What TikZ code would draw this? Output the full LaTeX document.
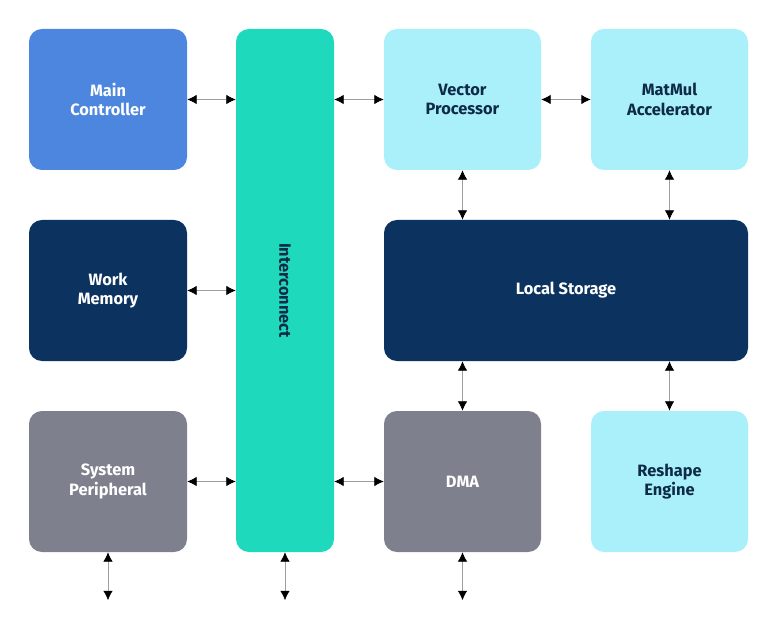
\documentclass[tikz,border=0pt]{standalone}
\usepackage{fontspec}
\setmainfont{Fira Sans}
\usetikzlibrary{arrows.meta}

\definecolor{ctrlblue}{HTML}{4C86DE}
\definecolor{navy}{HTML}{0C3360}
\definecolor{periph}{HTML}{7E808D}
\definecolor{teal}{HTML}{1FD9BC}
\definecolor{lightcyan}{HTML}{A9F0FA}
\definecolor{inktext}{HTML}{0E2A47}

\begin{document}
\begin{tikzpicture}[x=0.03cm,y=-0.03cm,
    block/.style={rounded corners=11pt,inner sep=0pt,align=center,
        font=\fontsize{14}{16.5}\selectfont\bfseries},
    link/.style={draw=gray!75,line width=0.6pt,
        {Latex[black,length=8pt,width=8pt]}-{Latex[black,length=8pt,width=8pt]}}]

\useasboundingbox (0,0) rectangle (778,624);

% Blocks
\node[block,fill=ctrlblue,text=white,minimum width=158*0.03cm,minimum height=141*0.03cm]
    (mc) at (108,99.5) {Main\\Controller};
\node[block,fill=navy,text=white,minimum width=158*0.03cm,minimum height=141*0.03cm]
    (wm) at (108,290.5) {Work\\Memory};
\node[block,fill=periph,text=white,minimum width=158*0.03cm,minimum height=141*0.03cm]
    (sp) at (108,481.5) {System\\Peripheral};

\node[block,fill=teal,minimum width=98*0.03cm,minimum height=523*0.03cm]
    (ic) at (285,290.5) {};
\node[text=inktext,rotate=-90,font=\fontsize{14}{16.5}\selectfont\bfseries]
    (iclabel) at (ic.center) {Interconnect};

\node[block,fill=lightcyan,text=inktext,minimum width=157*0.03cm,minimum height=141*0.03cm]
    (vp) at (462.5,99.5) {Vector\\Processor};
\node[block,fill=lightcyan,text=inktext,minimum width=157*0.03cm,minimum height=141*0.03cm]
    (mm) at (669.5,99.5) {MatMul\\Accelerator};
\node[block,fill=navy,text=white,minimum width=364*0.03cm,minimum height=141*0.03cm]
    (ls) at (566,290.5) {Local Storage};
\node[block,fill=periph,text=white,minimum width=157*0.03cm,minimum height=141*0.03cm]
    (dma) at (462.5,481.5) {DMA};
\node[block,fill=lightcyan,text=inktext,minimum width=157*0.03cm,minimum height=141*0.03cm]
    (re) at (669.5,481.5) {Reshape\\Engine};

% Bus links
\draw[link] (mc.east) -- (mc.east -| ic.west);
\draw[link] (wm.east) -- (wm.east -| ic.west);
\draw[link] (sp.east) -- (sp.east -| ic.west);
\draw[link] (vp.west -| ic.east) -- (vp.west);
\draw[link] (dma.west -| ic.east) -- (dma.west);
\draw[link] (vp.east) -- (mm.west);

% Storage links
\draw[link] (vp.south) -- (vp.south |- ls.north);
\draw[link] (mm.south) -- (mm.south |- ls.north);
\draw[link] (ls.south -| dma.north) -- (dma.north);
\draw[link] (ls.south -| re.north) -- (re.north);

% Off-chip
\foreach \n in {sp,ic,dma}{
    \coordinate (\n-out) at ([yshift=-48*0.03cm]\n.south);
    \draw[link] (\n.south) -- (\n-out);
}

\end{tikzpicture}
\end{document}
